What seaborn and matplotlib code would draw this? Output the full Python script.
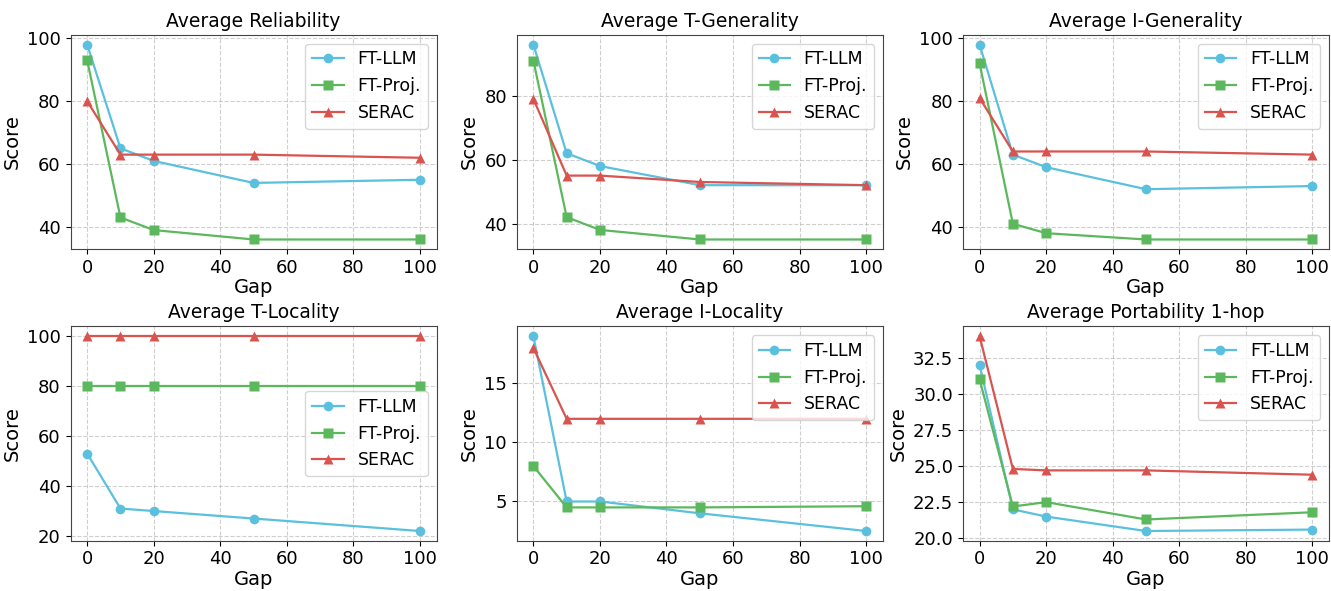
import pandas as pd
import matplotlib
matplotlib.use('agg')
import matplotlib.pyplot as plt
from matplotlib.ticker import MultipleLocator, FormatStrFormatter
import seaborn as sns

gaps = [0, 10, 20, 50, 100]
methods = ['FT-LLM', 'FT-Proj.', 'SERAC']

titles = ['Average Reliability', 'Average T-Generality', 'Average I-Generality',
          'Average T-Locality', 'Average I-Locality', 'Average Portability 1-hop']

reliability = {'FT-LLM': [98, 65, 61, 54, 55],
               'FT-Proj.': [93, 43, 39, 36, 36],
               'SERAC': [80, 63, 63, 63, 62]}
t_generality = {'FT-LLM': [96, 62, 58, 52, 52],
                'FT-Proj.': [91, 42, 38, 35, 35],
                'SERAC': [79, 55, 55, 53, 52]}
i_generality = {'FT-LLM': [98, 63, 59, 52, 53],
                'FT-Proj.': [92, 41, 38, 36, 36],
                'SERAC': [81, 64, 64, 64, 63]}
t_locality = {'FT-LLM': [53, 31, 30, 27, 22],
              'FT-Proj.': [80, 80, 80, 80, 80],
              'SERAC': [100, 100, 100, 100, 100]}
i_locality = {'FT-LLM': [19, 5, 5, 4, 2.5],
              'FT-Proj.': [8, 4.5, 4.5, 4.5, 4.6],
              'SERAC': [18, 12, 12, 12, 12]}
portability = {'FT-LLM': [32, 22, 21.5, 20.5, 20.6],
               'FT-Proj.': [31, 22.2, 22.5, 21.3, 21.8],
               'SERAC': [34, 24.8, 24.7, 24.7, 24.4]}

panels = [reliability, t_generality, i_generality, t_locality, i_locality, portability]
legend_locs = ['upper right', 'upper right', 'upper right', 'center right', 'upper right', 'upper right']

colors = {'FT-LLM': '#5bc0de', 'FT-Proj.': '#5cb85c', 'SERAC': '#d9534f'}
markers = {'FT-LLM': 'o', 'FT-Proj.': 's', 'SERAC': '^'}

plt.rcParams['font.family'] = ['DejaVu Sans']
plt.rcParams['axes.edgecolor'] = '#444444'

fig, axes = plt.subplots(2, 3, figsize=(13.31, 5.91), dpi=100)
fig.subplots_adjust(left=0.053, right=0.9985, top=0.941, bottom=0.085,
                    wspace=0.219, hspace=0.36)

for ax, title, panel, loc in zip(axes.flat, titles, panels, legend_locs):
    rows = []
    for m in methods:
        for g, v in zip(gaps, panel[m]):
            rows.append({'Gap': g, 'Score': v, 'Method': m})
    dfrm = pd.DataFrame(rows)
    sns.lineplot(data=dfrm, x='Gap', y='Score', hue='Method', style='Method',
                 palette=colors, markers=markers, dashes=False, markersize=7,
                 linewidth=1.6, markeredgecolor='none', ax=ax)
    ax.set_title(title, fontsize=13.5)
    ax.set_xlabel('Gap', fontsize=14, labelpad=1)
    ax.set_ylabel('Score', fontsize=14)
    ax.tick_params(labelsize=13)
    ax.set_xticks([0, 20, 40, 60, 80, 100])
    ax.grid(True, linestyle='--', alpha=0.6)
    ax.legend(title=None, loc=loc, fontsize=12.5, handlelength=1.8)

# portability panel uses finer ticks
axes[1, 2].yaxis.set_major_locator(MultipleLocator(2.5))
axes[1, 2].yaxis.set_major_formatter(FormatStrFormatter('%.1f'))

plt.savefig('out.png', dpi=100)
